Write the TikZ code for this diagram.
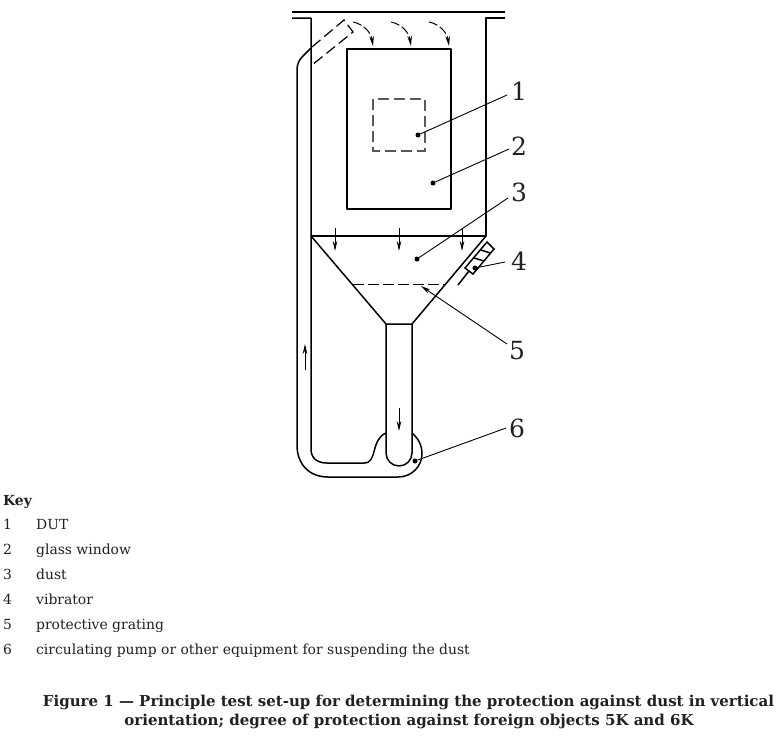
\documentclass[tikz,border=0pt]{standalone}
\usepackage{fontspec}
\setmainfont{DejaVu Serif}
\usepackage{tikz}
\usetikzlibrary{arrows.meta}
\definecolor{inktext}{gray}{0.13}
\tikzset{
    wall/.style={draw,line width=1.5pt,line join=round},
    hidden/.style={draw,line width=1.2pt,dash pattern=on 11pt off 5pt},
    flow/.style={draw,line width=1pt,-{Stealth[length=10pt,width=4.6pt]}},
    leader/.style={draw,line width=0.9pt},
    dot/.style={circle,fill,inner sep=0pt,minimum size=5pt},
    callout/.style={font=\fontsize{25}{25}\selectfont,anchor=base,text=inktext},
    keytext/.style={font=\fontsize{13.9}{16}\selectfont,anchor=base west,inner sep=0pt,text=inktext},
    captext/.style={font=\fontsize{15}{18}\selectfont\bfseries,anchor=base,inner sep=0pt,text=inktext}
}

\begin{document}
\begin{tikzpicture}[x=1pt,y=-1pt]
	\useasboundingbox (0,0) rectangle (779,740);
	\fill[white] (0,0) rectangle (779,740);
	% enclosure and funnel
	\draw[wall] (292,12) -- (505,12);
	\draw[wall] (292,18) -- (311,18) -- (311,449)
		.. controls (311,458) and (317,463) .. (327,463) -- (364,463)
		.. controls (378,463) and (370,440) .. (386,433);
	\draw[wall] (505,18) -- (486,18) -- (486,236) -- (311,236);
	\draw[wall] (311,236) -- (386,324) -- (412,324) -- (486,236);
	\draw[wall] (386,324) -- (386,453) arc[start angle=180,end angle=0,radius=13] -- (412,324);
	\draw[wall] (311,48) -- (303,56) .. controls (299,60) and (297,64) .. (297,70) -- (297,445)
		.. controls (297,464) and (309,477) .. (328,477) -- (398,477)
		.. controls (412,477) and (422,466) .. (422,454)
		.. controls (422,445) and (418,438) .. (412,433);
	\draw[wall] (347,49) rectangle (451,209);
	% hidden parts
	\draw[hidden] (312,47) -- (344,20) -- (353,32) -- (312,65);
	\draw[hidden,gray!70!black] (373,99) rectangle (425,151);
	\draw[draw,line width=0.9pt,dash pattern=on 11pt off 4pt] (353,284) -- (446,284);
	% vibrator
	\draw[line width=1.5pt] (487,242) -- (494,249) -- (473,274) -- (465,268) -- cycle;
	\draw[line width=1.5pt] (481,250) -- (490,253);
	\draw[line width=1.5pt] (474,258) -- (484,261);
	\draw[line width=1.5pt] (458,285) -- (469,271);
	% dust flow
	\draw[flow,dash pattern=on 9pt off 3pt] (353,22) .. controls (363,24) and (371,32) .. (373,46);
	\draw[flow,dash pattern=on 9pt off 3pt] (391,22) .. controls (401,24) and (409,32) .. (411,46);
	\draw[flow,dash pattern=on 9pt off 3pt] (429,22) .. controls (439,24) and (447,32) .. (449,46);
	\draw[flow] (335,228) -- (335,251);
	\draw[flow] (399,228) -- (399,251);
	\draw[flow] (462,228) -- (462,251);
	\draw[flow] (399,408) -- (399,431);
	\draw[flow] (305,370) -- (305,344);
	% callouts
	\node[callout] at (519,100) (n1) {1};
	\node[callout] at (519,155) (n2) {2};
	\node[callout] at (519,201) (n3) {3};
	\node[callout] at (519,270) (n4) {4};
	\node[callout] at (517,359) (n5) {5};
	\node[callout] at (517,437) (n6) {6};
	\node[dot] at (418,135) (d1) {};
	\node[dot] at (433,183) (d2) {};
	\node[dot] at (417,259) (d3) {};
	\node[dot] at (475,268) (d4) {};
	\node[dot] at (415,461) (d6) {};
	\coordinate (e1) at (507,95);
	\coordinate (e2) at (509,149);
	\coordinate (e3) at (508,198);
	\coordinate (e4) at (505,262);
	\coordinate (e5) at (507,344);
	\coordinate (a5) at (421,286);
	\coordinate (e6) at (506,428);
	\draw[leader] (d1) -- (e1);
	\draw[leader] (d2) -- (e2);
	\draw[leader] (d3) -- (e3);
	\draw[leader] (d4) -- (e4);
	\draw[leader,-{Stealth[length=10pt,width=4.6pt]}] (e5) -- (a5);
	\draw[leader] (d6) -- (e6);
	% key
	\node[keytext,font=\fontsize{13.9}{16}\selectfont\bfseries] at (3,505.5) (keyhead) {Key};
	\node[keytext] at (3,529) (k1) {1};
	\node[keytext] at (36,529) (t1) {DUT};
	\node[keytext] at (3,554) (k2) {2};
	\node[keytext] at (36,554) (t2) {glass window};
	\node[keytext] at (3,579) (k3) {3};
	\node[keytext] at (36,579) (t3) {dust};
	\node[keytext] at (3,604) (k4) {4};
	\node[keytext] at (36,604) (t4) {vibrator};
	\node[keytext] at (3,629) (k5) {5};
	\node[keytext] at (36,629) (t5) {protective grating};
	\node[keytext] at (3,654) (k6) {6};
	\node[keytext] at (36,654) (t6) {circulating pump or other equipment for suspending the dust};
	% caption
	\node[captext] at (408.5,706) (cap1) {Figure 1 — Principle test set-up for determining the protection against dust in vertical};
	\node[captext] at (409,725) (cap2) {orientation; degree of protection against foreign objects 5K and 6K};
\end{tikzpicture}
\end{document}
